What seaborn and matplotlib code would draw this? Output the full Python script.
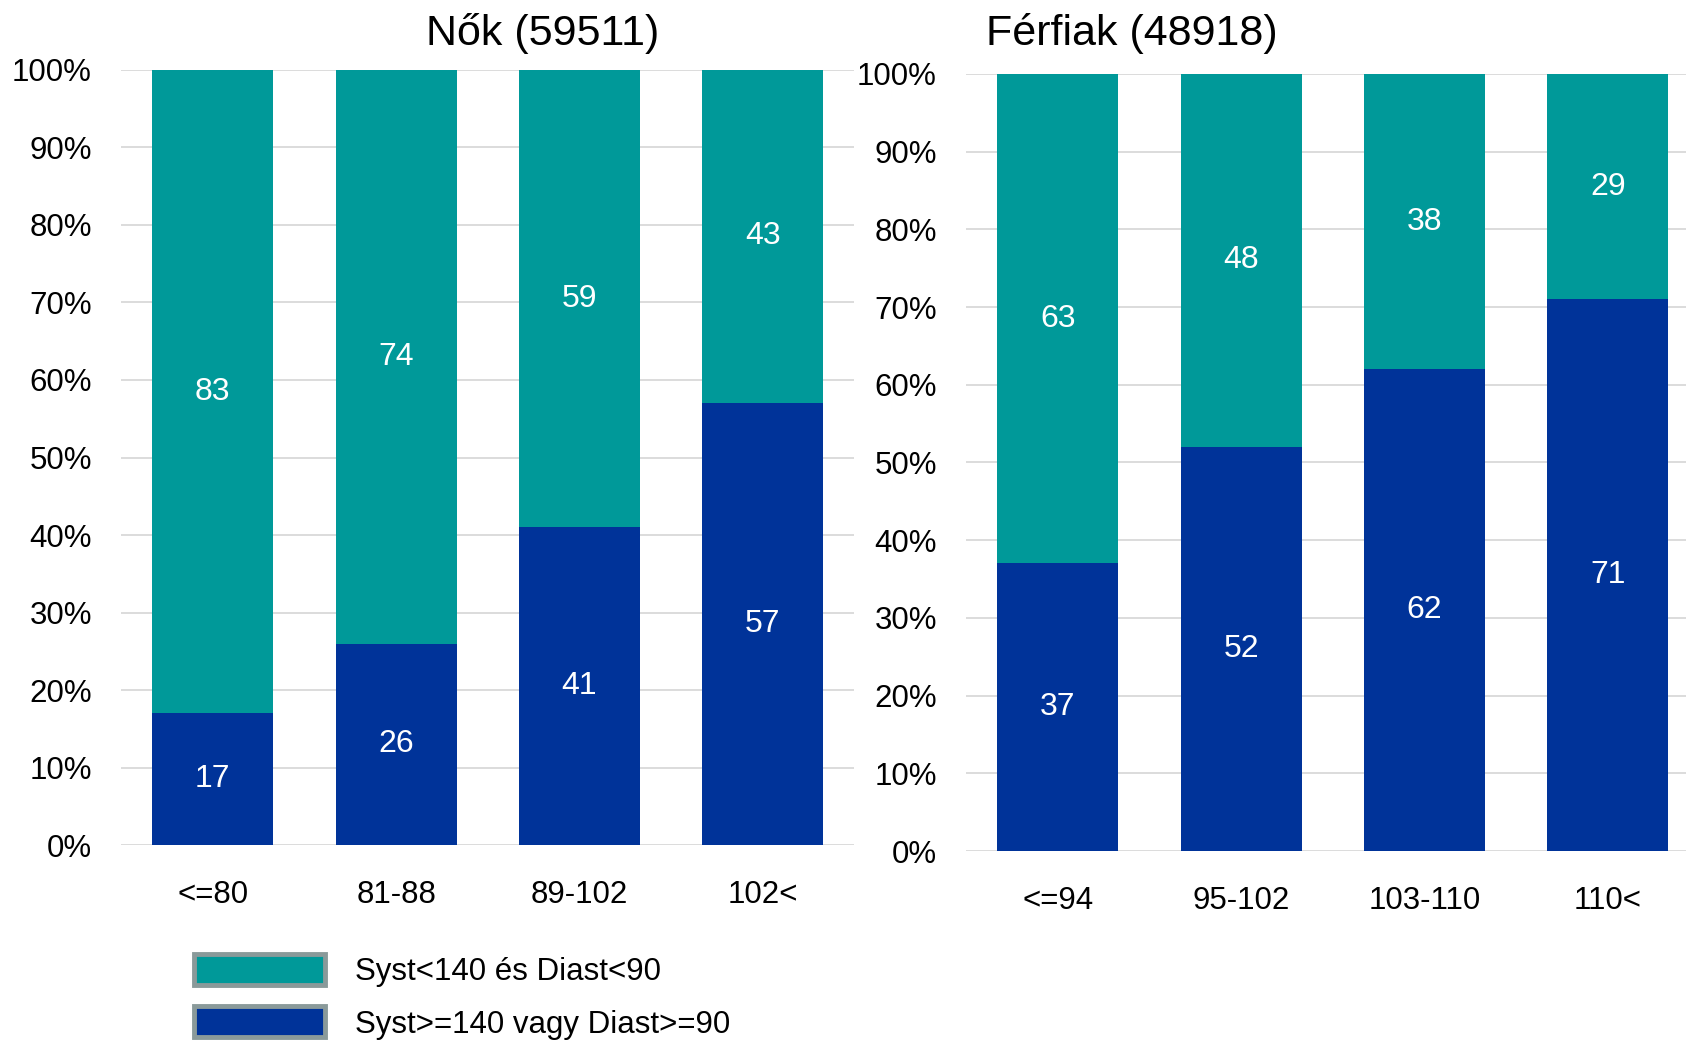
import matplotlib
matplotlib.use('Agg')
import matplotlib.pyplot as plt
import seaborn as sns
from matplotlib.patches import Patch
from matplotlib.ticker import PercentFormatter

# data
nok_cats = ['<=80', '81-88', '89-102', '102<']
nok_high = [17, 26, 41, 57]
nok_norm = [83, 74, 59, 43]

ffi_cats = ['<=94', '95-102', '103-110', '110<']
ffi_high = [37, 52, 62, 71]
ffi_norm = [63, 48, 38, 29]

nok_title = 'Nők (59511)'
ffi_title = 'Férfiak (48918)'
legend_labels = ['Syst<140 és Diast<90', 'Syst>=140 vagy Diast>=90']

teal = '#009999'
blue = '#003399'

sns.set_style('white')
plt.rcParams['font.family'] = ['Liberation Sans', 'DejaVu Sans']
plt.rcParams['text.color'] = '#000000'

fig = plt.figure(figsize=(16.86, 10.41), dpi=100)
ax1 = fig.add_axes([0.0718, 0.188, 0.435, 0.745])
ax2 = fig.add_axes([0.573, 0.1825, 0.435, 0.7465])


def draw(ax, cats, high, norm):
    totals = [h + n for h, n in zip(high, norm)]
    sns.barplot(x=cats, y=totals, color=teal, width=0.66, saturation=1, linewidth=0, ax=ax, zorder=2)
    sns.barplot(x=cats, y=high, color=blue, width=0.66, saturation=1, linewidth=0, ax=ax, zorder=3)
    for i, (h, n) in enumerate(zip(high, norm)):
        ax.text(i, h / 2, str(h), ha='center', va='center', color='white', fontsize=23, zorder=4)
        ax.text(i, h + n / 2, str(n), ha='center', va='center', color='white', fontsize=23, zorder=4)
    ax.set_ylim(0, 100)
    ax.set_xlim(-0.5, len(cats) - 0.5)
    ax.set_yticks(range(0, 101, 10))
    ax.yaxis.set_major_formatter(PercentFormatter(decimals=0))
    ax.grid(axis='y', color='#d9d9d9', linewidth=1.3, zorder=0)
    ax.set_axisbelow(True)
    for s in ax.spines.values():
        s.set_visible(False)
    ax.tick_params(axis='y', length=0, pad=21, labelsize=22.5, labelcolor='#000000')
    ax.tick_params(axis='x', length=0, pad=25, labelsize=22.5, labelcolor='#000000')
    ax.set_xlabel('')
    ax.set_ylabel('')


draw(ax1, nok_cats, nok_high, nok_norm)
draw(ax2, ffi_cats, ffi_high, ffi_norm)

fig.text(543 / 1686, 1 - 33 / 1041, nok_title, ha='center', va='center', fontsize=31)
fig.text(1132 / 1686, 1 - 33 / 1041, ffi_title, ha='center', va='center', fontsize=31)

handles = [Patch(facecolor=teal, edgecolor='#8a9a9a', linewidth=3.5),
           Patch(facecolor=blue, edgecolor='#8a9a9a', linewidth=3.5)]
fig.legend(handles, legend_labels, loc='upper left', bbox_to_anchor=(194 / 1686, 1 - 954 / 1041),
           frameon=False, fontsize=22.5, handlelength=4.2, handleheight=1.15, labelspacing=0.62,
           handletextpad=0.95, borderpad=0, borderaxespad=0)

fig.savefig('out.png', dpi=100)
